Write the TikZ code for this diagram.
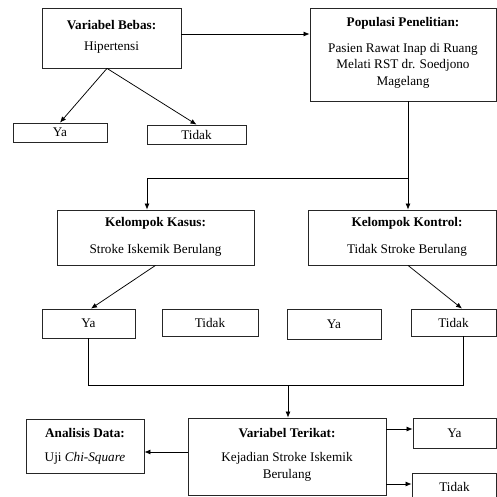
\documentclass[tikz,border=0pt]{standalone}
\usepackage{fontspec}
\setmainfont{Liberation Serif}
\usetikzlibrary{arrows.meta,fit}
\begin{document}
\begin{tikzpicture}[x=1pt,y=-1pt,
  box/.style={draw=black!85,line width=0.8pt,inner sep=0pt},
  lbl/.style={inner sep=0pt,align=center,font=\fontsize{13.2}{16.5}\selectfont},
  ttl/.style={lbl,font=\fontsize{13.2}{16.5}\selectfont\bfseries},
  ln/.style={draw=black,line width=0.75pt},
  arr/.style={ln,-{Latex[length=6pt,width=5pt]}}]
\useasboundingbox (0,0) rectangle (497,497);
% boxes
\node[box,fit={(42,8) (181,68)}] (vb) {};
\node[box,fit={(310,8) (496,101)}] (pop) {};
\node[box,fit={(13,123) (107,142)}] (ya1) {};
\node[box,fit={(147,125) (246,144)}] (td1) {};
\node[box,fit={(57,210) (254,265)}] (kasus) {};
\node[box,fit={(308,210) (496,265)}] (kontrol) {};
\node[box,fit={(42,309) (135,338)}] (ya2) {};
\node[box,fit={(162,309) (258,336)}] (td2) {};
\node[box,fit={(287,309) (381,339)}] (ya3) {};
\node[box,fit={(411,309) (496,336)}] (td3) {};
\node[box,fit={(26,419) (144,473)}] (an) {};
\node[box,fit={(188,418) (386,495)}] (ter) {};
\node[box,fit={(413,418) (496,448)}] (ya4) {};
\node[box,fit={(412,473) (496,512)}] (td4) {};
% texts
\node[ttl] (vbt) at (111.5,25) {Variabel Bebas:};
\node[lbl] (vbs) at (111.5,48) {Hipertensi};
\node[ttl] (popt) at (403,23) {Populasi Penelitian:};
\node[lbl] (pops) at (403,65.5) {Pasien Rawat Inap di Ruang\\Melati RST dr. Soedjono\\Magelang};
\node[lbl] (ya1t) at (ya1) {Ya};
\node[lbl] (td1t) at (td1) {Tidak};
\node[ttl] (kat) at (155.5,223) {Kelompok Kasus:};
\node[lbl] (kas) at (155.5,250) {Stroke Iskemik Berulang};
\node[ttl] (kot) at (407,223) {Kelompok Kontrol:};
\node[lbl] (kos) at (407,250) {Tidak Stroke Berulang};
\node[lbl] (ya2t) at (ya2) {Ya};
\node[lbl] (td2t) at (td2) {Tidak};
\node[lbl] (ya3t) at (ya3) {Ya};
\node[lbl] (td3t) at (td3) {Tidak};
\node[ttl] (ant) at (85,433) {Analisis Data:};
\node[lbl] (ans) at (85,458) {Uji \textit{Chi-Square}};
\node[ttl] (tert) at (287,433) {Variabel Terikat:};
\node[lbl] (ters) at (287,467) {Kejadian Stroke Iskemik\\Berulang};
\node[lbl] (ya4t) at (454.5,433) {Ya};
\node[lbl] (td4t) at (454.5,487) {Tidak};
% connectors
\coordinate (c1) at ([yshift=4pt]vb.east);
\draw[arr] (c1) -- (c1 -| pop.west);
\coordinate (vbb) at ([xshift=-4.5pt]vb.south);
\draw[arr] (vbb) -- (ya1.north);
\draw[arr] (vbb) -- (td1.north);
\coordinate (p1) at ([xshift=5pt]pop.south);
\coordinate (j1) at (408,178);
\draw[ln] (p1) -- (j1);
\draw[arr] (j1) -| ([xshift=-8.5pt]kasus.north);
\draw[arr] (j1) -- (j1 |- kontrol.north);
\draw[arr] (kasus.south) -- ([xshift=2.5pt]ya2.north);
\draw[arr] ([xshift=6pt]kontrol.south) -- ([xshift=8.5pt]td3.north);
\coordinate (j3) at (463,385);
\coordinate (j2) at (288,385);
\draw[ln] (ya2.south) |- (j3) -- ([xshift=9.5pt]td3.south);
\draw[arr] (j2) -- (j2 |- ter.north);
\coordinate (c2) at ([yshift=4.5pt]ter.west);
\draw[arr] (c2) -- (c2 -| an.east);
\coordinate (c3) at ([yshift=27.5pt]ter.east);
\draw[arr] (c3) -- (c3 -| ya4.west);
\coordinate (c4) at ([yshift=-27.5pt]ter.east);
\draw[arr] (c4) -- (c4 -| td4.west);
\end{tikzpicture}
\end{document}
